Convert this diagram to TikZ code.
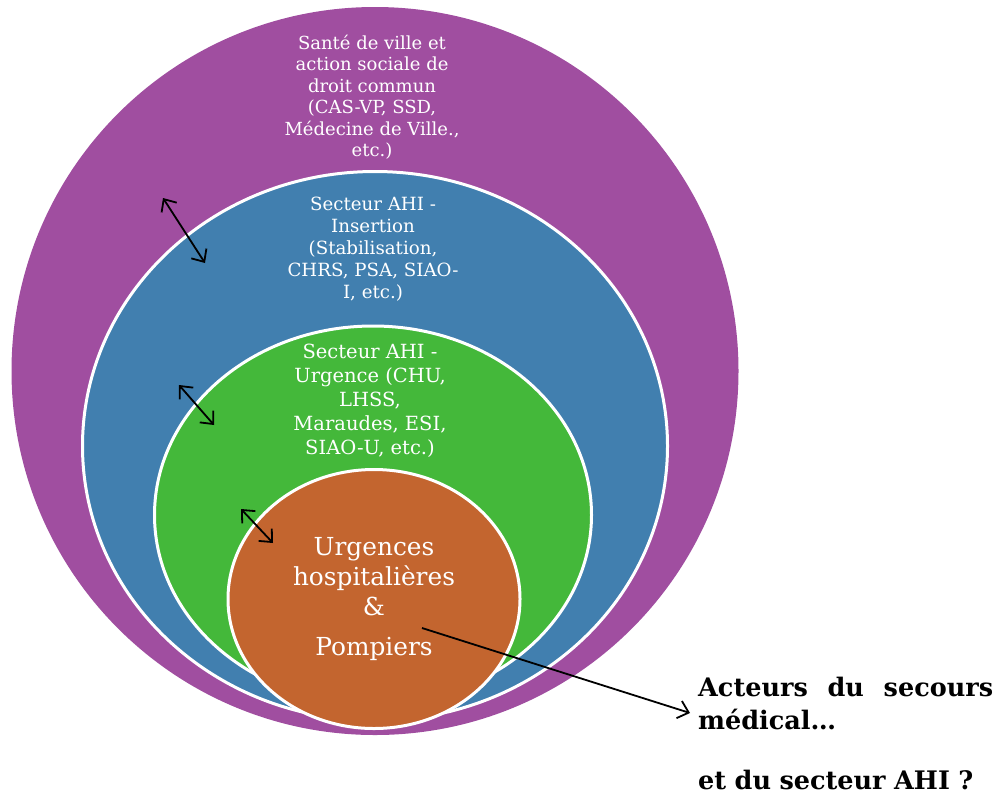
\documentclass[tikz,border=0pt]{standalone}
\usepackage{fontspec}
\setmainfont{DejaVu Serif}
\usetikzlibrary{shapes.geometric,arrows.meta}
\definecolor{cpurple}{RGB}{160,78,160}
\definecolor{cblue}{RGB}{65,127,175}
\definecolor{cgreen}{RGB}{68,184,58}
\definecolor{corange}{RGB}{195,101,47}
\tikzset{
  ring/.style={ellipse, inner sep=0pt, draw=white, line width=3pt},
  lbl/.style={text=white, align=center, inner sep=0pt},
  dbl/.style={{Straight Barb[length=10pt,width=18pt]}-{Straight Barb[length=10pt,width=18pt]}, line width=1.8pt, black},
  sgl/.style={-{Straight Barb[length=10pt,width=18pt]}, line width=1.8pt, black}
}
\begin{document}
\begin{tikzpicture}[x=1pt,y=-1pt]
\useasboundingbox (0,0) rectangle (1003,796);
\node[ellipse, inner sep=0pt, fill=cpurple, minimum width=727pt, minimum height=728pt] (purple) at (375,371) {};
\node[ring, fill=cblue, minimum width=585pt, minimum height=549pt] (blue) at (375,446) {};
\node[ring, fill=cgreen, minimum width=437pt, minimum height=378pt] (green) at (373,515) {};
\node[ring, fill=corange, minimum width=292pt, minimum height=259pt] (orange) at (374,599) {};

\node[lbl, font=\fontsize{18}{21.5}\selectfont] (tpurple) at (372,97) {Santé de ville et\\action sociale de\\droit commun\\(CAS-VP, SSD,\\Médecine de Ville.,\\etc.)};
\node[lbl, font=\fontsize{18.2}{22}\selectfont] (tblue) at (373,249) {Secteur AHI -\\Insertion\\(Stabilisation,\\CHRS, PSA, SIAO-\\I, etc.)};
\node[lbl, font=\fontsize{19.5}{24}\selectfont] (tgreen) at (370,401) {Secteur AHI -\\Urgence (CHU,\\LHSS,\\Maraudes, ESI,\\SIAO-U, etc.)};
\node[lbl, font=\fontsize{24.8}{30}\selectfont] (torange) at (374,599) {Urgences\\hospitalières\\\&\\[10pt]Pompiers};

\node[anchor=north west, inner sep=0pt, text width=295pt, align=left, font=\fontsize{25.5}{32.5}\selectfont\bfseries] (tact) at (698,677) {Acteurs\hfill du\hfill secours\\médical…\\[28pt]et du secteur AHI ?};

\coordinate (a1s) at (163,198); \coordinate (a1e) at (205,263);
\coordinate (a2s) at (179,385); \coordinate (a2e) at (214,425);
\coordinate (a3s) at (241,509); \coordinate (a3e) at (273,543);
\coordinate (ls) at (422,628); \coordinate (le) at (690,713);
\draw[dbl] (a1s) -- (a1e);
\draw[dbl] (a2s) -- (a2e);
\draw[dbl] (a3s) -- (a3e);
\draw[sgl] (ls) -- (le);
\end{tikzpicture}
\end{document}
